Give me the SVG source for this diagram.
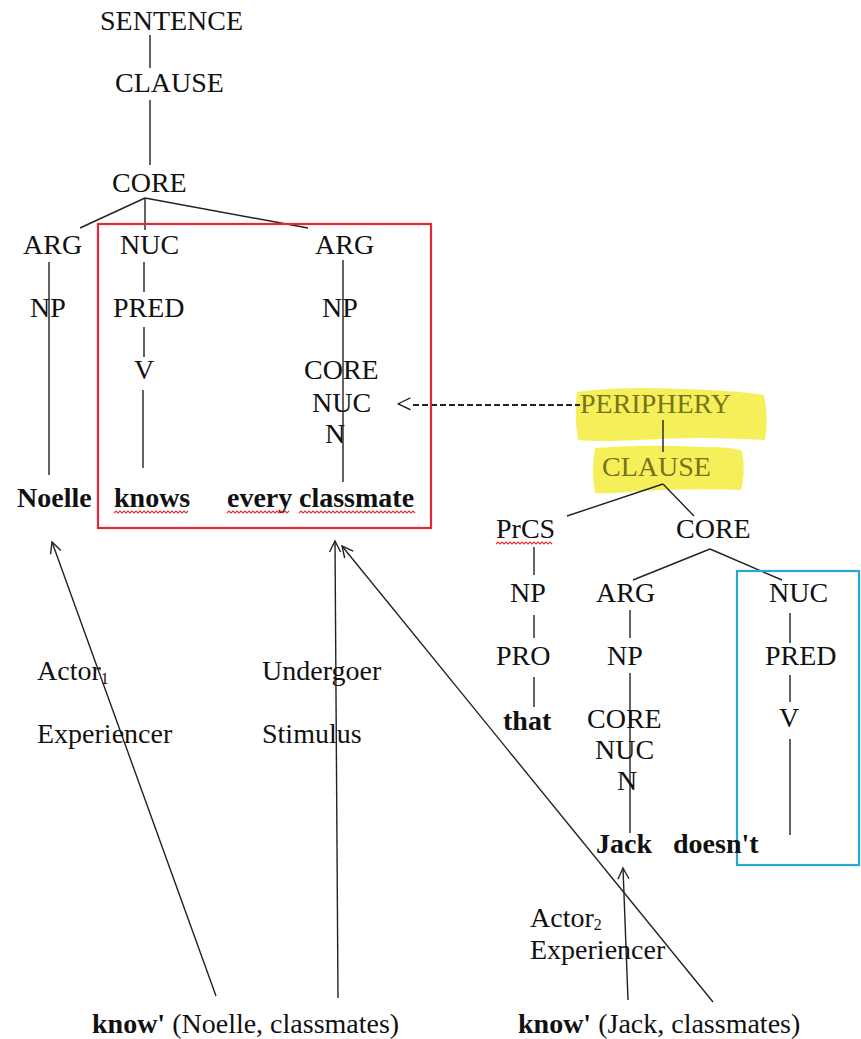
<svg xmlns="http://www.w3.org/2000/svg" width="861" height="1039" viewBox="0 0 861 1039">
  <style>
    text { font-family: "Liberation Serif", "Times New Roman", serif; font-size: 28px; fill: #111; }
    .b { font-weight: bold; }
    .hl-text { fill: #76741a; }
    .sub { font-size: 16px; }
    .edge { stroke: #222; stroke-width: 1.4; fill: none; }
    .dash { stroke: #222; stroke-width: 2; stroke-dasharray: 6 3; fill: none; }
    .arrow { stroke: #222; stroke-width: 1.4; fill: none; marker-end: url(#chev); }
    .spell { stroke: #e03030; stroke-width: 1.1; fill: none; }
    .hl { fill: #f4ef4c; opacity: 0.92; }
  </style>
  <defs>
    <marker id="chev" viewBox="-12 -7 14 14" markerWidth="14" markerHeight="14" refX="0" refY="0" orient="auto" markerUnits="userSpaceOnUse">
      <path d="M-11,-5.5 L0,0 L-11,5.5" stroke="#222" stroke-width="1.4" fill="none"/>
    </marker>
  </defs>
  <rect width="861" height="1039" fill="#ffffff"/>

  <!-- highlighter marks behind the periphery labels -->
  <g id="highlights">
    <path class="hl" d="M577,392 Q620,386 680,389 Q730,390 764,395 Q769,418 765,440 Q700,436 640,440 Q600,442 578,440 Q574,416 577,392 Z"/>
    <path class="hl" d="M595,448 Q650,444 700,447 Q735,447 742,451 Q746,472 741,490 Q680,488 630,492 Q605,494 595,493 Q591,470 595,448 Z"/>
  </g>

  <!-- connectors -->
  <g id="connectors">
    <line class="edge" x1="150" y1="35" x2="150" y2="68"/>
    <line class="edge" x1="150" y1="100" x2="150" y2="165"/>
    <line class="edge" x1="145" y1="198" x2="80" y2="228"/>
    <line class="edge" x1="145" y1="198" x2="145" y2="230"/>
    <line class="edge" x1="145" y1="198" x2="308" y2="228"/>
    <line class="edge" x1="49" y1="262" x2="49" y2="475"/>
    <line class="edge" x1="144" y1="262" x2="144" y2="292"/>
    <line class="edge" x1="144" y1="327" x2="144" y2="357"/>
    <line class="edge" x1="143" y1="390" x2="143" y2="468"/>
    <line class="edge" x1="343" y1="260" x2="343" y2="482"/>
    <line class="dash" x1="413" y1="405" x2="580" y2="405"/>
    <line class="edge" x1="663" y1="420" x2="663" y2="452"/>
    <line class="edge" x1="663" y1="484" x2="567" y2="516"/>
    <line class="edge" x1="663" y1="484" x2="694" y2="516"/>
    <line class="edge" x1="534" y1="547" x2="534" y2="575"/>
    <line class="edge" x1="534" y1="615" x2="534" y2="638"/>
    <line class="edge" x1="534" y1="677" x2="534" y2="707"/>
    <line class="edge" x1="710" y1="549" x2="633" y2="580"/>
    <line class="edge" x1="710" y1="549" x2="782" y2="580"/>
    <line class="edge" x1="630" y1="610" x2="630" y2="638"/>
    <line class="edge" x1="630" y1="673" x2="630" y2="833"/>
    <line class="edge" x1="790" y1="613" x2="790" y2="643"/>
    <line class="edge" x1="790" y1="675" x2="790" y2="702"/>
    <line class="edge" x1="790" y1="739" x2="790" y2="835"/>
    <line class="arrow" x1="216" y1="996" x2="52" y2="542"/>
    <line class="arrow" x1="338" y1="998" x2="335" y2="541"/>
    <line class="arrow" x1="713" y1="1002" x2="342" y2="546"/>
    <line class="arrow" x1="628" y1="1000" x2="623" y2="868"/>
  </g>

  <!-- boxes around constituents -->
  <g id="red-box">
    <rect x="98" y="224" width="333" height="304" fill="none" stroke="#e0283a" stroke-width="2.2"/>
  </g>
  <g id="blue-box">
    <rect x="737" y="571" width="122" height="294" fill="none" stroke="#2aa6d6" stroke-width="2.2"/>
  </g>

  <!-- main clause tree -->
  <g id="sentence"><text x="100" y="30">SENTENCE</text></g>
  <g id="clause"><text x="115" y="92">CLAUSE</text></g>
  <g id="core"><text x="112" y="192">CORE</text></g>
  <g id="arg1"><text x="23" y="254">ARG</text></g>
  <g id="nuc"><text x="120" y="254">NUC</text></g>
  <g id="arg2"><text x="315" y="254">ARG</text></g>
  <g id="np1"><text x="30" y="317">NP</text></g>
  <g id="pred"><text x="113" y="317">PRED</text></g>
  <g id="np2"><text x="322" y="317">NP</text></g>
  <g id="v"><text x="134" y="379">V</text></g>
  <g id="np2-core"><text x="304" y="379">CORE</text></g>
  <g id="np2-nuc"><text x="312" y="412">NUC</text></g>
  <g id="np2-n"><text x="325" y="443">N</text></g>
  <g id="noelle"><text class="b" x="17" y="507">Noelle</text></g>
  <g id="knows"><text class="b" x="114" y="507">knows</text></g>
  <g id="every"><text class="b" x="227" y="507">every</text></g>
  <g id="classmate"><text class="b" x="299" y="507">classmate</text></g>

  <!-- spell-check underlines -->
  <g id="spell-marks">
    <path class="spell" d="M114,513 l2,-2 l2,2 l2,-2 l2,2 l2,-2 l2,2 l2,-2 l2,2 l2,-2 l2,2 l2,-2 l2,2 l2,-2 l2,2 l2,-2 l2,2 l2,-2 l2,2 l2,-2 l2,2 l2,-2 l2,2 l2,-2 l2,2 l2,-2 l2,2 l2,-2 l2,2 l2,-2 l2,2 l2,-2 l2,2 l2,-2 l2,2 l2,-2 l2,2 l2,-2"/>
    <path class="spell" d="M227,513 l2,-2 l2,2 l2,-2 l2,2 l2,-2 l2,2 l2,-2 l2,2 l2,-2 l2,2 l2,-2 l2,2 l2,-2 l2,2 l2,-2 l2,2 l2,-2 l2,2 l2,-2 l2,2 l2,-2 l2,2 l2,-2 l2,2 l2,-2 l2,2 l2,-2 l2,2 l2,-2 l2,2 l2,-2"/>
    <path class="spell" d="M299,513 l2,-2 l2,2 l2,-2 l2,2 l2,-2 l2,2 l2,-2 l2,2 l2,-2 l2,2 l2,-2 l2,2 l2,-2 l2,2 l2,-2 l2,2 l2,-2 l2,2 l2,-2 l2,2 l2,-2 l2,2 l2,-2 l2,2 l2,-2 l2,2 l2,-2 l2,2 l2,-2 l2,2 l2,-2 l2,2 l2,-2 l2,2 l2,-2 l2,2 l2,-2 l2,2 l2,-2 l2,2 l2,-2 l2,2 l2,-2 l2,2 l2,-2 l2,2 l2,-2 l2,2 l2,-2 l2,2 l2,-2 l2,2 l2,-2 l2,2 l2,-2 l2,2 l2,-2 l2,2"/>
    <path class="spell" d="M496,544 l2,-2 l2,2 l2,-2 l2,2 l2,-2 l2,2 l2,-2 l2,2 l2,-2 l2,2 l2,-2 l2,2 l2,-2 l2,2 l2,-2 l2,2 l2,-2 l2,2 l2,-2 l2,2 l2,-2 l2,2 l2,-2 l2,2 l2,-2 l2,2 l2,-2 l2,2"/>
  </g>

  <!-- periphery clause -->
  <g id="periphery-pointer"><text x="396" y="413">&lt;</text></g>
  <g id="periphery"><text class="hl-text" x="580" y="413">PERIPHERY</text></g>
  <g id="p-clause"><text class="hl-text" x="602" y="476">CLAUSE</text></g>
  <g id="prcs"><text x="496" y="538">PrCS</text></g>
  <g id="p-core"><text x="676" y="538">CORE</text></g>
  <g id="p-np"><text x="510" y="602">NP</text></g>
  <g id="p-arg"><text x="596" y="602">ARG</text></g>
  <g id="p-nuc"><text x="769" y="602">NUC</text></g>
  <g id="p-pro"><text x="496" y="665">PRO</text></g>
  <g id="p-arg-np"><text x="607" y="665">NP</text></g>
  <g id="p-pred"><text x="765" y="665">PRED</text></g>
  <g id="that"><text class="b" x="503" y="730">that</text></g>
  <g id="p-np-core"><text x="587" y="728">CORE</text></g>
  <g id="p-v"><text x="779" y="727">V</text></g>
  <g id="p-np-nuc"><text x="595" y="759">NUC</text></g>
  <g id="p-np-n"><text x="617" y="790">N</text></g>
  <g id="jack"><text class="b" x="596" y="853">Jack</text></g>
  <g id="doesnt"><text class="b" x="673" y="853">doesn't</text></g>

  <!-- semantic roles -->
  <g id="actor1"><text x="37" y="680">Actor<tspan class="sub" dy="4">1</tspan></text></g>
  <g id="experiencer1"><text x="37" y="743">Experiencer</text></g>
  <g id="undergoer"><text x="262" y="680">Undergoer</text></g>
  <g id="stimulus"><text x="262" y="743">Stimulus</text></g>
  <g id="actor2"><text x="530" y="927">Actor<tspan class="sub" dy="3">2</tspan></text></g>
  <g id="experiencer2"><text x="530" y="959">Experiencer</text></g>

  <!-- logical structures -->
  <g id="ls1"><text x="92" y="1033"><tspan class="b">know'</tspan> (Noelle, classmates)</text></g>
  <g id="ls2"><text x="518" y="1033"><tspan class="b">know'</tspan> (Jack, classmates)</text></g>
</svg>
